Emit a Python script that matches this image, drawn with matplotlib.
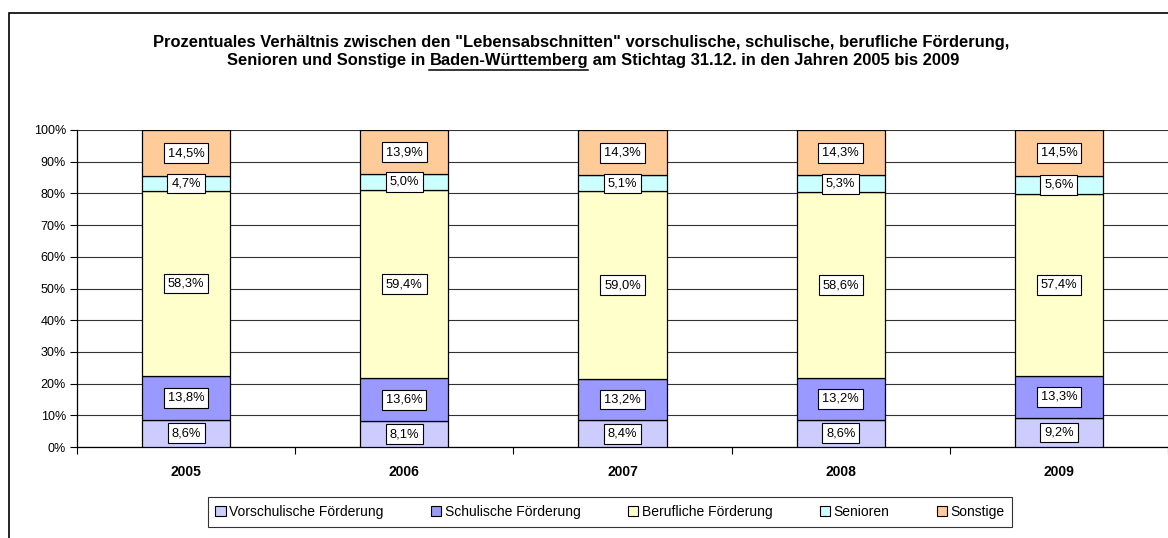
import matplotlib
matplotlib.use('Agg')
import matplotlib.pyplot as plt
import numpy as np
from matplotlib.patches import Rectangle
from matplotlib.lines import Line2D

plt.rcParams['font.family'] = ['Liberation Sans', 'DejaVu Sans']

years = ['2005', '2006', '2007', '2008', '2009']
series_names = ['Vorschulische Förderung', 'Schulische Förderung', 'Berufliche Förderung',
                'Senioren', 'Sonstige']
vorschulisch = [8.6, 8.1, 8.4, 8.6, 9.2]
schulisch = [13.8, 13.6, 13.2, 13.2, 13.3]
beruflich = [58.3, 59.4, 59.0, 58.6, 57.4]
senioren = [4.7, 5.0, 5.1, 5.3, 5.6]
sonstige = [14.5, 13.9, 14.3, 14.3, 14.5]
colors = ['#CCCCFF', '#9999FF', '#FFFFCC', '#CCFFFF', '#FFCC99']

data = np.array([vorschulisch, schulisch, beruflich, senioren, sonstige])
shares = data / data.sum(axis=0) * 100

fig = plt.figure(figsize=(11.68, 5.38), dpi=100)
ax = fig.add_axes([77/1168, 1-447/538, 1-77/1168, 317/538])

x = np.arange(len(years)) + 0.5
bottom = np.zeros(len(years))
handles = []
for i in range(len(series_names)):
    bars = ax.bar(x, shares[i], 0.405, bottom=bottom, color=colors[i],
                  edgecolor='black', linewidth=0.9, zorder=3, label=series_names[i])
    for xi, b, h, v in zip(x, bottom, shares[i], data[i]):
        ax.text(xi, b + h/2, f'{v:.1f}%'.replace('.', ','), ha='center', va='center',
                fontsize=9.3, zorder=5,
                bbox=dict(boxstyle='square,pad=0.3', facecolor='white', edgecolor='black', linewidth=0.8))
    bottom += shares[i]
    handles.append(bars)

ax.set_xlim(0, 5)
ax.set_ylim(0, 100)
ax.set_yticks(np.arange(0, 101, 10))
ax.set_yticklabels([f'{v}%' for v in range(0, 101, 10)], fontsize=9)
ax.set_xticks(np.arange(0, 6))
ax.set_xticklabels([])
ax.set_xticks(x, minor=True)
ax.set_xticklabels(years, minor=True, fontsize=10, fontweight='bold')
ax.tick_params(axis='x', which='minor', length=0, pad=13)
ax.tick_params(axis='x', which='major', length=5, direction='out')
ax.tick_params(axis='y', length=5, direction='out', pad=3)
ax.yaxis.grid(True, color='#333333', linewidth=0.8, zorder=0)
ax.set_axisbelow(True)
for s in ['top', 'right']:
    ax.spines[s].set_visible(False)
ax.spines['left'].set_linewidth(0.9)
ax.spines['bottom'].set_linewidth(0.9)

# outer chart frame
fig.add_artist(Rectangle((9/1168, -0.01), 1.02, 1 - 13/538 + 0.01, transform=fig.transFigure,
                         fill=False, edgecolor='black', linewidth=1.2, clip_on=False))

# title
tfs = 11.9
fig.text(581/1168, 1-42/538, 'Prozentuales Verhältnis zwischen den "Lebensabschnitten" vorschulische, '
         'schulische, berufliche Förderung,', ha='center', va='center', fontsize=tfs, fontweight='bold')
parts = ['Senioren und Sonstige in ', 'Baden-Württemberg', ' am Stichtag 31.12. in den Jahren 2005 bis 2009']
renderer = fig.canvas.get_renderer()
widths = []
for p in parts:
    t = fig.text(0, 0, p, fontsize=tfs, fontweight='bold')
    widths.append(t.get_window_extent(renderer).width)
    t.remove()
total = sum(widths)
cx = 593
y2 = 538 - 61
xs = cx - total/2
for p, w in zip(parts, widths):
    fig.text(xs/1168, y2/538, p, ha='left', va='center', fontsize=tfs, fontweight='bold')
    if p == 'Baden-Württemberg':
        fig.add_artist(Line2D([xs/1168, (xs + w)/1168], [(y2 - 9)/538, (y2 - 9)/538],
                              color='black', linewidth=1.1, transform=fig.transFigure))
    xs += w

leg = fig.legend(handles, series_names, loc='center', bbox_to_anchor=(610/1168, 1-512/538),
                 ncol=5, fontsize=10, frameon=True, fancybox=False, handlelength=0.75,
                 handleheight=0.75, handletextpad=0.25, columnspacing=3.4, borderpad=0.55,
                 borderaxespad=0)
leg.get_frame().set_edgecolor('black')
leg.get_frame().set_linewidth(0.8)
for h in leg.legend_handles:
    h.set_linewidth(0.8)

fig.savefig('out.png', dpi=100)
